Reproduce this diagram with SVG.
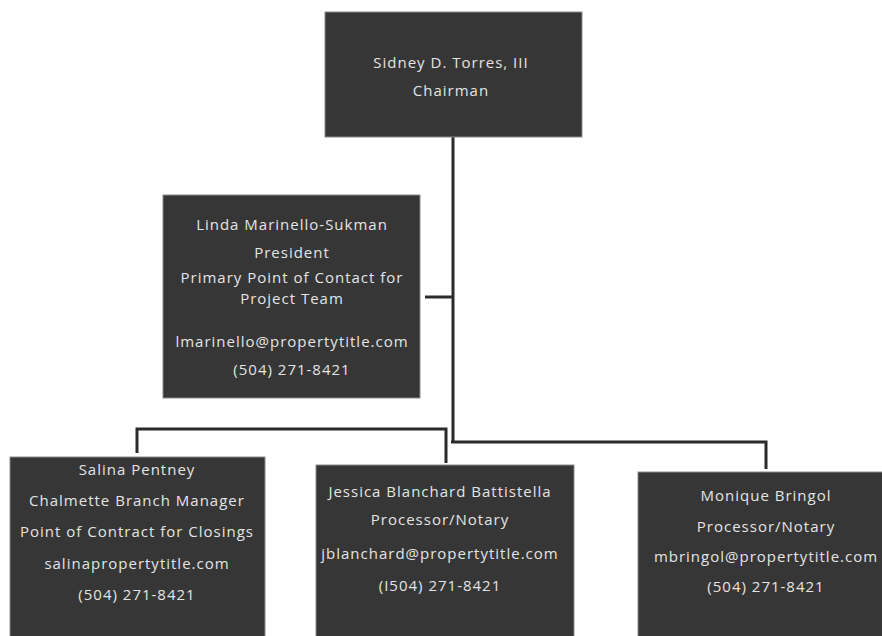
<svg xmlns="http://www.w3.org/2000/svg" width="882" height="636" viewBox="0 0 882 636">
<style>
.box{fill:#363636;stroke:#8a8a8a;stroke-width:1}
.t{font-family:"Open Sans","Liberation Sans",sans-serif;font-size:15px;fill:#e4e4e4;text-anchor:middle;letter-spacing:1px}
.c{fill:none;stroke:#2b2b2b;stroke-width:3}
</style>
<rect width="882" height="636" fill="#ffffff"/>
<g id="connectors">
<path class="c" d="M453,137 V442"/>
<path class="c" d="M425,297 H453"/>
<path class="c" d="M137,453 V429 H446 V463"/>
<path class="c" d="M451,442 H766 V469"/>
</g>
<g id="chairman">
<rect class="box" x="325" y="12" width="257" height="125"/>
<text class="t" x="451" y="68">Sidney D. Torres, III</text>
<text class="t" x="451" y="96">Chairman</text>
</g>
<g id="president">
<rect class="box" x="163" y="195" width="257" height="203"/>
<text class="t" x="292" y="230">Linda Marinello-Sukman</text>
<text class="t" x="292" y="258">President</text>
<text class="t" x="292" y="283">Primary Point of Contact for</text>
<text class="t" x="292" y="304">Project Team</text>
<text class="t" x="292" y="347">lmarinello@propertytitle.com</text>
<text class="t" x="292" y="375">(504) 271-8421</text>
</g>
<g id="salina">
<rect class="box" x="10" y="457" width="255" height="185"/>
<text class="t" x="137" y="475">Salina Pentney</text>
<text class="t" x="137" y="506">Chalmette Branch Manager</text>
<text class="t" x="137" y="537">Point of Contract for Closings</text>
<text class="t" x="137" y="569">salinapropertytitle.com</text>
<text class="t" x="137" y="600">(504) 271-8421</text>
</g>
<g id="jessica">
<rect class="box" x="316" y="465" width="258" height="180"/>
<text class="t" x="440" y="497">Jessica Blanchard Battistella</text>
<text class="t" x="440" y="525">Processor/Notary</text>
<text class="t" x="440" y="559">jblanchard@propertytitle.com</text>
<text class="t" x="440" y="591">(I504) 271-8421</text>
</g>
<g id="monique">
<rect class="box" x="638" y="472" width="250" height="175"/>
<text class="t" x="766" y="501">Monique Bringol</text>
<text class="t" x="766" y="532">Processor/Notary</text>
<text class="t" x="766" y="562">mbringol@propertytitle.com</text>
<text class="t" x="766" y="592">(504) 271-8421</text>
</g>
</svg>
